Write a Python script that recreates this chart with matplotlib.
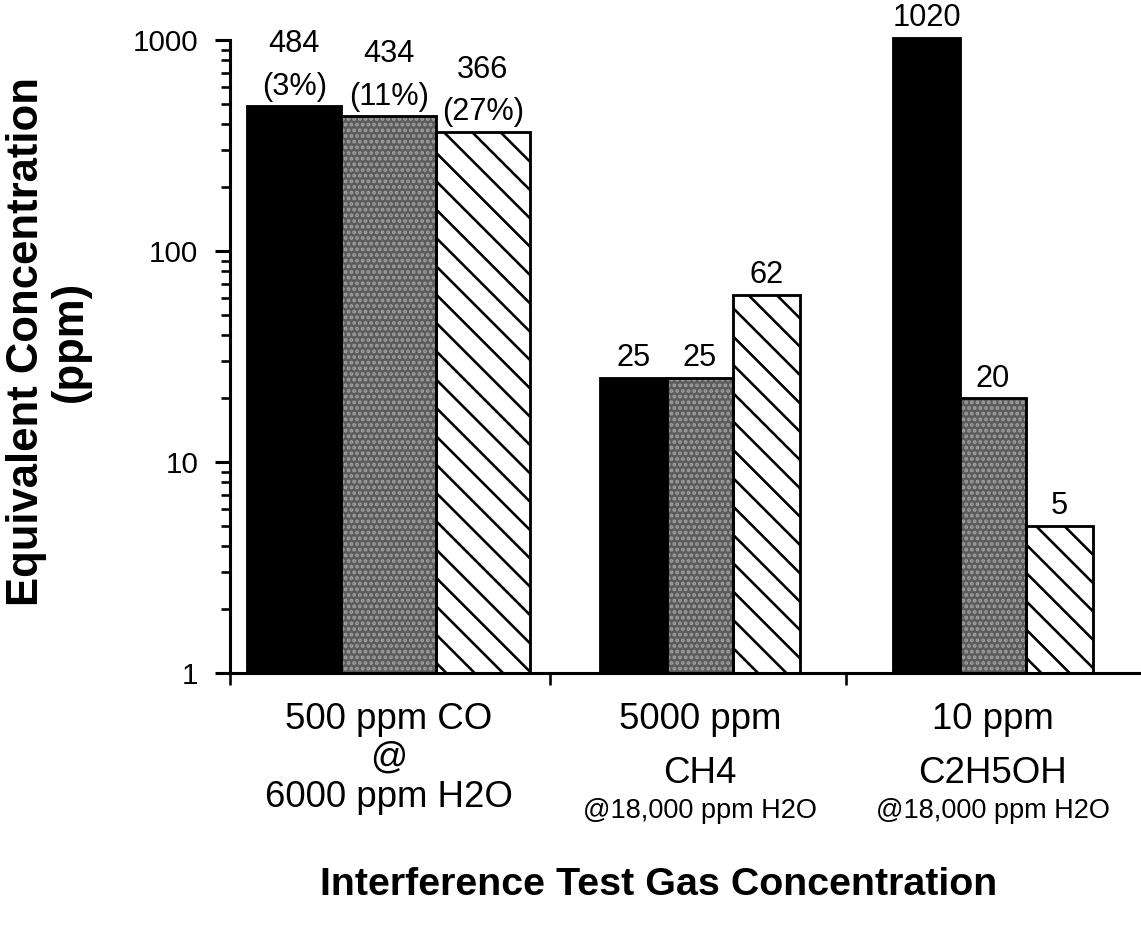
import matplotlib
matplotlib.use("Agg")
import matplotlib.pyplot as plt
import matplotlib.transforms as mtransforms
from matplotlib.ticker import FixedLocator, NullFormatter

plt.rcParams['font.family'] = ['Liberation Sans', 'DejaVu Sans']
plt.rcParams['hatch.linewidth'] = 1.1

# ---- data -------------------------------------------------------------
gas_labels = [
    ["500 ppm CO", "@", "6000 ppm H2O"],
    ["5000 ppm", "CH4", "@18,000 ppm H2O"],
    ["10 ppm", "C2H5OH", "@18,000 ppm H2O"],
]
series_a = [484, 25, 1020]     # solid black
series_b = [434, 25, 20]       # stippled grey
series_c = [366, 62, 5]        # diagonal hatch
pct_a = ["(3%)", "", ""]
pct_b = ["(11%)", "", ""]
pct_c = ["(27%)", "", ""]
y_ticks = [1, 10, 100, 1000]
y_tick_labels = ["1", "10", "100", "1000"]

# ---- layout -----------------------------------------------------------
W, H, DPI = 1141, 937, 170
group_pos = [0.0, 1.03, 2.0]
group_width = [0.312, 0.22, 0.22]
separators = [0.535, 1.515]
x_left, x_right = -0.525, 2.49
base = 1  # bottom of the log axis

fig = plt.figure(figsize=(W / DPI, H / DPI), dpi=DPI)
ax = fig.add_axes([230 / W, 1 - 673 / H, 1 - 230 / W, (673 - 40) / H])
ax.set_yscale('log')
ax.set_ylim(1, 1000)
ax.set_xlim(x_left, x_right)

edge_lw = 1.2

def draw_series(values, offset_idx, style, pcts):
    for i, v in enumerate(values):
        w = group_width[i]
        x = group_pos[i] + (offset_idx - 1) * w
        h = v - base
        if style == 'solid':
            ax.bar(x, h, width=w, bottom=base, color='black', edgecolor='black',
                   linewidth=edge_lw, clip_on=False, zorder=2)
        elif style == 'stipple':
            ax.bar(x, h, width=w, bottom=base, facecolor='#5c5c5c',
                   edgecolor='#a0a0a0', hatch='.....', linewidth=0,
                   clip_on=False, zorder=2)
            ax.bar(x, h, width=w, bottom=base, facecolor='none',
                   edgecolor='black', linewidth=edge_lw, clip_on=False,
                   zorder=3)
        else:
            ax.bar(x, h, width=w, bottom=base, facecolor='white',
                   edgecolor='black', hatch='\\\\', linewidth=edge_lw,
                   clip_on=False, zorder=2)
        txt = f"{v}" if not pcts[i] else f"{v}\n{pcts[i]}"
        ax.annotate(txt, (x, v), xytext=(0, 2), textcoords='offset points',
                    ha='center', va='bottom', fontsize=13, linespacing=1.55,
                    annotation_clip=False)

draw_series(series_a, 0, 'solid', pct_a)
draw_series(series_b, 1, 'stipple', pct_b)
draw_series(series_c, 2, 'hatch', pct_c)

# ---- axes styling -----------------------------------------------------
for s in ('top', 'right'):
    ax.spines[s].set_visible(False)
ax.spines['left'].set_linewidth(1.3)
ax.spines['bottom'].set_linewidth(1.3)

ax.yaxis.set_major_locator(FixedLocator(y_ticks))
ax.set_yticklabels(y_tick_labels, fontsize=12.5)
ax.yaxis.set_minor_locator(FixedLocator(
    [m * 10 ** d for d in range(3) for m in range(2, 10)]))
ax.yaxis.set_minor_formatter(NullFormatter())
ax.tick_params(axis='y', which='major', direction='out', length=6.5,
               width=1.3, pad=7)
ax.tick_params(axis='y', which='minor', direction='out', length=4,
               width=1.1)

ax.set_xticks([x_left] + separators)
ax.set_xticklabels([])
ax.tick_params(axis='x', which='major', direction='out', length=5, width=1.1)

# category labels under each group
trans = mtransforms.blended_transform_factory(ax.transData, fig.transFigure)
baselines = [[729, 768, 807], [729, 783, 818], [729, 783, 818]]
for gi, lines in enumerate(gas_labels):
    for li, line in enumerate(lines):
        small = gi > 0 and li == 2
        fig.text(group_pos[gi], 1 - baselines[gi][li] / H, line,
                 transform=trans, ha='center', va='baseline',
                 fontsize=11.5 if small else 15.5)

fig.text(27 / W, 1 - 341 / H, "Equivalent Concentration", rotation=90,
         ha='center', va='center', fontsize=18.5, fontweight='bold')
fig.text(70 / W, 1 - 341 / H, "(ppm)", rotation=90,
         ha='center', va='center', fontsize=18.5, fontweight='bold')
fig.text(659 / W, 1 - 885 / H, "Interference Test Gas Concentration",
         ha='center', va='center', fontsize=16.7, fontweight='bold')

fig.savefig("out.png", dpi=DPI)
